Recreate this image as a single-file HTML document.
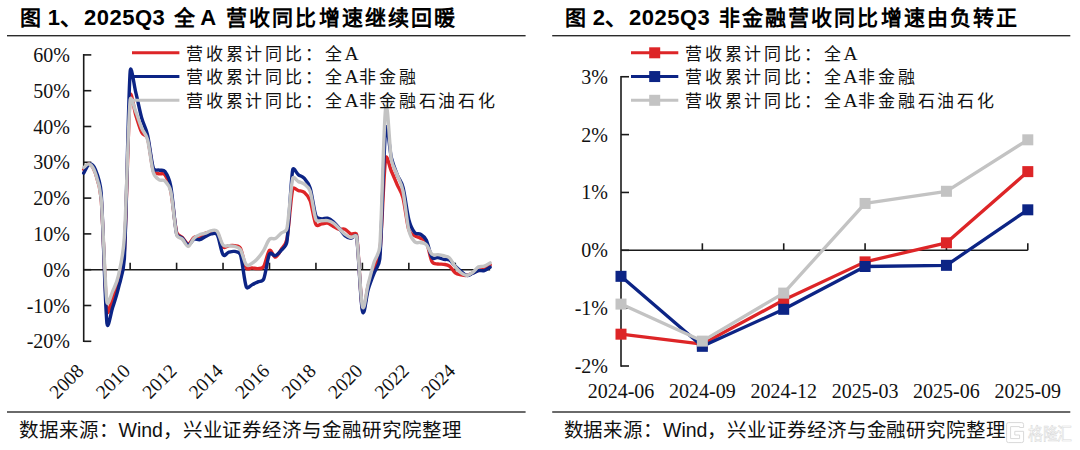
<!DOCTYPE html>
<html lang="zh-CN"><head><meta charset="utf-8"><title>chart</title>
<style>
html,body{margin:0;padding:0;background:#fff;}
body{width:1080px;height:450px;overflow:hidden;}
svg{display:block;}
.ttl{font-family:"Liberation Sans",sans-serif;font-weight:bold;fill:#000;}
.tc{font-size:21px;letter-spacing:2.15px;}
.tl{font-size:22px;letter-spacing:0.5px;}
.src{font-family:"Liberation Sans",sans-serif;font-size:19.5px;letter-spacing:-0.08px;fill:#111;}
.ax{font-family:"Liberation Serif",serif;font-size:20px;fill:#111;}
.lg{font-family:"Liberation Serif",serif;font-size:17px;font-weight:300;letter-spacing:2.8px;fill:#111;}
.xr{font-size:19.5px;}
.la{font-size:19.5px;letter-spacing:0.8px;}
.wm{font-family:"Liberation Sans",sans-serif;font-size:17px;fill:#fff;stroke:#dadada;stroke-width:0.6px;}
</style></head><body>
<svg width="1080" height="450" viewBox="0 0 1080 450">
<rect width="1080" height="450" fill="#fff"/>
<text y="25.30" class="ttl"><tspan x="19.50" class="tc">图</tspan><tspan x="47.75" class="tl">1、</tspan><tspan x="84.00" class="tl">2025Q3</tspan><tspan x="173.50" class="tc">全</tspan><tspan x="200.25" class="tl">A</tspan><tspan x="226.00" class="tc">营收同比增速继续回暖</tspan></text>
<text y="25.30" class="ttl"><tspan x="564.50" class="tc">图</tspan><tspan x="592.75" class="tl">2、</tspan><tspan x="629.00" class="tl">2025Q3</tspan><tspan x="718.50" class="tc">非金融营收同比增速由负转正</tspan></text>
<rect x="7" y="35" width="518.6" height="1.4" fill="#2b2b2b"/>
<rect x="552.2" y="35" width="518.1" height="1.4" fill="#2b2b2b"/>
<rect x="7" y="411.3" width="518.6" height="1.4" fill="#2b2b2b"/>
<rect x="552.2" y="411.3" width="518.1" height="1.4" fill="#2b2b2b"/>
<text x="19" y="437.4" class="src">数据来源：Wind，兴业证券经济与金融研究院整理</text>
<text x="563.5" y="437.4" class="src">数据来源：Wind，兴业证券经济与金融研究院整理</text>
<g stroke="#1a1a1a" stroke-width="1.6" fill="none">
<path d="M83.70,54.10 V342.10"/>
<path d="M83.70,341.30 H91.30"/>
<path d="M83.70,305.50 H91.30"/>
<path d="M83.70,269.70 H91.30"/>
<path d="M83.70,233.90 H91.30"/>
<path d="M83.70,198.10 H91.30"/>
<path d="M83.70,162.30 H91.30"/>
<path d="M83.70,126.50 H91.30"/>
<path d="M83.70,90.70 H91.30"/>
<path d="M83.70,54.90 H91.30"/>
<path d="M83.70,269.70 H490.12"/>
<path d="M130.15,269.70 V262.70"/>
<path d="M176.60,269.70 V262.70"/>
<path d="M223.04,269.70 V262.70"/>
<path d="M269.49,269.70 V262.70"/>
<path d="M315.94,269.70 V262.70"/>
<path d="M362.39,269.70 V262.70"/>
<path d="M408.84,269.70 V262.70"/>
<path d="M455.28,269.70 V262.70"/>
</g>
<text x="70" y="348.30" class="ax" text-anchor="end">-20%</text>
<text x="70" y="312.50" class="ax" text-anchor="end">-10%</text>
<text x="70" y="276.70" class="ax" text-anchor="end">0%</text>
<text x="70" y="240.90" class="ax" text-anchor="end">10%</text>
<text x="70" y="205.10" class="ax" text-anchor="end">20%</text>
<text x="70" y="169.30" class="ax" text-anchor="end">30%</text>
<text x="70" y="133.50" class="ax" text-anchor="end">40%</text>
<text x="70" y="97.70" class="ax" text-anchor="end">50%</text>
<text x="70" y="61.90" class="ax" text-anchor="end">60%</text>
<text x="84.90" y="372.10" class="ax xr" text-anchor="end" transform="rotate(-45 84.90 372.10)">2008</text>
<text x="131.35" y="372.10" class="ax xr" text-anchor="end" transform="rotate(-45 131.35 372.10)">2010</text>
<text x="177.80" y="372.10" class="ax xr" text-anchor="end" transform="rotate(-45 177.80 372.10)">2012</text>
<text x="224.24" y="372.10" class="ax xr" text-anchor="end" transform="rotate(-45 224.24 372.10)">2014</text>
<text x="270.69" y="372.10" class="ax xr" text-anchor="end" transform="rotate(-45 270.69 372.10)">2016</text>
<text x="317.14" y="372.10" class="ax xr" text-anchor="end" transform="rotate(-45 317.14 372.10)">2018</text>
<text x="363.59" y="372.10" class="ax xr" text-anchor="end" transform="rotate(-45 363.59 372.10)">2020</text>
<text x="410.04" y="372.10" class="ax xr" text-anchor="end" transform="rotate(-45 410.04 372.10)">2022</text>
<text x="456.48" y="372.10" class="ax xr" text-anchor="end" transform="rotate(-45 456.48 372.10)">2024</text>
<path d="M83.70,169.46 C84.67,168.56 87.57,163.49 89.51,164.09 C91.44,164.69 93.59,167.99 95.31,173.04 C97.25,178.71 100.04,185.28 101.12,198.10 C103.05,221.07 104.99,294.16 106.92,310.87 C107.72,317.73 110.79,303.41 112.73,298.34 C114.67,293.27 116.60,288.20 118.54,280.44 C120.47,272.68 123.42,266.38 124.34,251.80 C126.28,221.19 128.21,119.46 130.15,96.79 C130.99,86.90 134.02,109.79 135.95,115.76 C137.89,121.73 139.82,128.83 141.76,132.59 C143.63,136.21 146.39,134.41 147.57,138.31 C149.50,144.76 151.44,165.34 153.37,171.25 C154.36,174.25 157.24,173.16 159.18,173.76 C161.11,174.35 163.33,172.38 164.98,174.83 C166.92,177.69 169.09,182.55 170.79,190.94 C172.73,200.49 174.66,224.35 176.60,232.11 C177.55,235.95 180.47,235.51 182.40,237.48 C184.34,239.45 186.27,243.92 188.21,243.92 C190.14,243.92 192.08,238.73 194.01,237.48 C195.95,236.23 197.88,237.12 199.82,236.41 C201.76,235.69 203.69,233.90 205.63,233.18 C207.56,232.47 209.50,232.17 211.43,232.11 C213.37,232.05 215.42,230.53 217.24,232.83 C219.17,235.27 221.11,244.64 223.04,246.79 C224.98,248.94 226.91,245.89 228.85,245.71 C230.79,245.53 232.72,245.30 234.66,245.71 C236.59,246.13 239.00,245.42 240.46,248.22 C242.40,251.92 244.33,264.63 246.27,267.91 C247.74,270.41 250.14,267.79 252.07,267.91 C254.01,268.03 255.94,268.86 257.88,268.63 C259.82,268.39 262.02,269.09 263.69,266.48 C265.62,263.44 267.56,251.92 269.49,250.37 C271.43,248.82 273.36,257.29 275.30,257.17 C277.23,257.05 279.17,252.64 281.10,249.65 C283.04,246.67 285.79,245.11 286.91,239.27 C288.85,229.19 290.78,197.26 292.72,189.15 C293.41,186.24 296.59,190.04 298.52,190.58 C300.46,191.12 302.39,190.70 304.33,192.37 C306.26,194.04 308.43,195.87 310.13,200.61 C312.07,205.98 314.00,220.71 315.94,224.59 C317.25,227.21 319.81,224.11 321.75,223.88 C323.68,223.64 325.62,222.74 327.55,223.16 C329.49,223.58 331.42,225.37 333.36,226.38 C335.29,227.40 337.23,228.77 339.16,229.25 C341.10,229.72 343.03,228.47 344.97,229.25 C346.91,230.02 348.84,233.00 350.78,233.90 C352.71,234.79 356.13,231.73 356.58,234.62 C358.52,247.03 360.45,299.83 362.39,308.36 C364.32,316.90 366.26,292.55 368.19,285.81 C370.13,279.07 372.06,273.28 374.00,267.91 C375.94,262.54 378.99,261.27 379.81,253.59 C381.74,235.39 383.68,172.44 385.61,158.72 C386.58,151.88 389.48,166.89 391.42,171.25 C393.35,175.61 395.29,180.38 397.22,184.85 C399.16,189.33 401.23,191.10 403.03,198.10 C404.97,205.62 406.90,223.70 408.84,229.96 C410.04,233.86 412.71,234.32 414.64,235.69 C416.58,237.06 418.51,237.18 420.45,238.20 C422.38,239.21 424.75,238.72 426.25,241.78 C428.19,245.71 430.12,258.12 432.06,261.82 C433.49,264.57 435.93,263.55 437.87,263.97 C439.80,264.39 441.74,263.97 443.67,264.33 C445.61,264.69 447.54,264.69 449.48,266.12 C451.41,267.55 453.35,271.46 455.28,272.92 C457.22,274.38 459.15,274.47 461.09,274.89 C463.03,275.31 464.96,275.76 466.90,275.43 C468.83,275.10 470.77,273.76 472.70,272.92 C474.64,272.09 476.57,271.02 478.51,270.42 C480.44,269.81 482.38,270.20 484.31,269.27 C486.25,268.35 489.15,265.60 490.12,264.87" stroke="#DD2527" stroke-width="3.4" fill="none" stroke-linejoin="round" stroke-linecap="round"/>
<path d="M83.70,173.04 C84.67,171.55 87.57,164.69 89.51,164.09 C91.44,163.49 93.83,165.80 95.31,169.46 C97.25,174.23 100.22,180.77 101.12,192.73 C103.05,218.39 104.99,304.31 106.92,323.40 C107.79,331.92 110.79,313.26 112.73,307.29 C114.67,301.32 116.60,295.65 118.54,287.60 C120.47,279.54 123.56,273.55 124.34,258.96 C126.28,222.98 128.21,99.35 130.15,71.73 C130.93,60.63 134.02,85.45 135.95,93.21 C137.89,100.96 139.82,111.28 141.76,118.27 C143.70,125.25 145.63,126.74 147.57,135.09 C149.50,143.45 151.44,162.54 153.37,168.39 C154.33,171.27 157.24,169.64 159.18,170.18 C161.11,170.71 163.24,169.18 164.98,171.61 C166.92,174.29 169.34,178.53 170.79,186.29 C172.73,196.67 174.66,225.25 176.60,233.90 C177.38,237.42 180.47,236.35 182.40,238.20 C184.34,240.05 186.27,244.82 188.21,245.00 C190.14,245.18 192.08,240.16 194.01,239.27 C195.95,238.37 197.88,240.11 199.82,239.63 C201.76,239.15 203.69,237.36 205.63,236.41 C207.56,235.45 209.50,234.20 211.43,233.90 C213.37,233.60 215.81,232.06 217.24,234.62 C219.17,238.08 221.11,251.74 223.04,254.66 C224.79,257.30 226.91,252.69 228.85,252.16 C230.79,251.62 232.72,251.02 234.66,251.44 C236.59,251.86 239.43,251.51 240.46,254.66 C242.40,260.57 244.33,281.87 246.27,286.88 C247.38,289.77 250.14,285.57 252.07,284.74 C254.01,283.90 255.94,282.83 257.88,281.87 C259.82,280.92 262.44,282.00 263.69,279.01 C265.62,274.35 267.56,257.83 269.49,253.95 C270.85,251.23 273.36,256.33 275.30,255.74 C277.23,255.14 279.17,252.69 281.10,250.37 C283.04,248.04 286.17,246.91 286.91,241.78 C288.85,228.35 290.78,180.98 292.72,169.82 C293.37,166.04 296.59,173.40 298.52,174.83 C300.46,176.26 302.39,176.20 304.33,178.41 C306.26,180.62 308.47,182.69 310.13,188.08 C312.07,194.34 314.00,210.87 315.94,216.00 C317.08,219.03 319.81,218.51 321.75,218.86 C323.68,219.22 325.62,217.67 327.55,218.15 C329.49,218.63 331.42,220.06 333.36,221.73 C335.29,223.40 337.23,225.84 339.16,228.17 C341.10,230.50 343.03,234.02 344.97,235.69 C346.91,237.36 348.84,238.08 350.78,238.20 C352.71,238.32 356.10,233.41 356.58,236.41 C358.52,248.52 360.45,302.04 362.39,310.87 C364.32,319.70 366.26,295.65 368.19,289.39 C370.13,283.12 372.06,278.35 374.00,273.28 C375.94,268.21 379.18,266.66 379.81,258.96 C381.74,235.09 383.68,146.91 385.61,130.08 C387.24,115.91 389.48,150.55 391.42,158.00 C393.35,165.46 395.29,169.94 397.22,174.83 C399.16,179.72 401.30,180.68 403.03,187.36 C404.97,194.82 406.90,212.06 408.84,219.58 C410.60,226.42 412.71,230.02 414.64,232.47 C416.53,234.85 418.51,233.00 420.45,234.26 C422.38,235.51 424.43,236.34 426.25,239.99 C428.19,243.86 430.12,254.60 432.06,257.53 C433.66,259.95 435.93,257.23 437.87,257.53 C439.80,257.83 441.74,258.90 443.67,259.32 C445.61,259.74 447.54,258.90 449.48,260.03 C451.41,261.17 453.35,264.24 455.28,266.12 C457.22,268.00 459.15,269.76 461.09,271.31 C463.03,272.86 464.96,275.10 466.90,275.43 C468.83,275.76 470.77,274.09 472.70,273.28 C474.64,272.47 476.57,271.04 478.51,270.59 C480.44,270.15 482.38,271.16 484.31,270.59 C486.25,270.03 489.15,267.76 490.12,267.19" stroke="#0C2485" stroke-width="3.4" fill="none" stroke-linejoin="round" stroke-linecap="round"/>
<path d="M83.70,167.67 C84.67,167.07 87.57,163.19 89.51,164.09 C91.44,164.98 93.59,167.99 95.31,173.04 C97.25,178.71 99.96,185.29 101.12,198.10 C103.05,219.58 104.99,286.41 106.92,301.92 C107.68,307.98 110.79,295.65 112.73,291.18 C114.67,286.71 116.73,283.44 118.54,275.07 C120.47,266.12 123.08,256.46 124.34,237.48 C126.28,208.30 128.21,120.89 130.15,100.01 C130.77,93.29 134.02,107.47 135.95,112.18 C137.89,116.89 139.82,123.70 141.76,128.29 C143.70,132.88 145.94,133.53 147.57,139.75 C149.50,147.14 151.44,166.00 153.37,172.68 C154.65,177.11 157.24,178.47 159.18,179.84 C161.11,181.21 163.05,179.01 164.98,180.92 C166.92,182.83 169.53,185.48 170.79,191.30 C172.73,200.25 174.66,226.62 176.60,234.62 C177.47,238.23 180.47,237.30 182.40,239.27 C184.34,241.24 186.27,246.61 188.21,246.43 C190.14,246.25 192.08,240.16 194.01,238.20 C195.95,236.23 197.88,235.45 199.82,234.62 C201.76,233.78 203.69,233.84 205.63,233.18 C207.56,232.53 209.50,230.98 211.43,230.68 C213.37,230.38 215.40,229.12 217.24,231.39 C219.17,233.78 221.11,242.61 223.04,245.00 C224.89,247.27 226.91,245.48 228.85,245.71 C230.79,245.95 232.72,245.77 234.66,246.43 C236.59,247.09 238.68,246.85 240.46,249.65 C242.40,252.69 244.33,262.42 246.27,264.69 C248.20,266.96 250.14,264.33 252.07,263.26 C254.01,262.18 255.94,260.39 257.88,258.24 C259.82,256.10 261.75,253.53 263.69,250.37 C265.62,247.21 267.56,241.24 269.49,239.27 C271.43,237.30 273.36,239.57 275.30,238.55 C277.23,237.54 279.17,234.85 281.10,233.18 C283.04,231.51 286.14,232.17 286.91,228.53 C288.85,219.40 290.78,186.23 292.72,178.41 C293.51,175.19 296.59,180.68 298.52,181.63 C300.46,182.59 302.39,182.53 304.33,184.14 C306.26,185.75 308.70,186.92 310.13,191.30 C312.07,197.21 314.00,214.69 315.94,219.58 C317.03,222.33 319.81,220.47 321.75,220.65 C323.68,220.83 325.62,220.24 327.55,220.65 C329.49,221.07 331.42,221.85 333.36,223.16 C335.29,224.47 337.23,226.68 339.16,228.53 C341.10,230.38 343.03,232.77 344.97,234.26 C346.91,235.75 348.84,237.06 350.78,237.48 C352.71,237.90 356.09,233.88 356.58,236.76 C358.52,248.22 360.45,298.34 362.39,306.22 C364.32,314.09 366.26,291.30 368.19,284.02 C370.13,276.74 372.06,268.80 374.00,262.54 C375.94,256.27 379.16,254.97 379.81,246.43 C381.74,220.77 383.68,123.04 385.61,108.60 C387.55,94.16 389.48,148.76 391.42,159.79 C392.81,167.73 395.29,169.58 397.22,174.83 C399.16,180.08 401.24,182.75 403.03,191.30 C404.97,200.55 406.90,221.91 408.84,230.32 C410.28,236.58 412.71,239.75 414.64,241.78 C416.58,243.80 418.51,242.01 420.45,242.49 C422.38,242.97 424.32,242.67 426.25,244.64 C428.19,246.61 430.12,252.64 432.06,254.31 C434.00,255.98 435.93,254.43 437.87,254.66 C439.80,254.90 441.74,255.20 443.67,255.74 C445.61,256.27 447.54,256.04 449.48,257.89 C451.41,259.74 453.35,264.33 455.28,266.84 C457.22,269.34 459.15,271.49 461.09,272.92 C463.03,274.35 464.96,275.52 466.90,275.43 C468.83,275.34 470.77,273.82 472.70,272.38 C474.64,270.95 476.57,267.88 478.51,266.84 C480.44,265.79 482.38,266.78 484.31,266.12 C486.25,265.46 489.15,263.43 490.12,262.90" stroke="#C3C3C3" stroke-width="3.4" fill="none" stroke-linejoin="round" stroke-linecap="round"/>
<path d="M132,52.80 H179.4" stroke="#DD2527" stroke-width="3" />
<text x="186" y="59.70" class="lg">营收累计同比：全<tspan class="la">A</tspan></text>
<path d="M132,76.55 H179.4" stroke="#0C2485" stroke-width="3" />
<text x="186" y="83.45" class="lg">营收累计同比：全<tspan class="la">A</tspan>非金融</text>
<path d="M132,100.30 H179.4" stroke="#C3C3C3" stroke-width="3" />
<text x="186" y="107.20" class="lg">营收累计同比：全<tspan class="la">A</tspan>非金融石油石化</text>
<g stroke="#1a1a1a" stroke-width="1.6" fill="none">
<path d="M621.00,75.95 V366.80"/>
<path d="M621.00,366.00 H629.00"/>
<path d="M621.00,308.15 H629.00"/>
<path d="M621.00,250.30 H629.00"/>
<path d="M621.00,192.45 H629.00"/>
<path d="M621.00,134.60 H629.00"/>
<path d="M621.00,76.75 H629.00"/>
<path d="M621.00,250.30 H1027.80"/>
<path d="M702.36,250.30 V243.30"/>
<path d="M783.72,250.30 V243.30"/>
<path d="M865.08,250.30 V243.30"/>
<path d="M946.44,250.30 V243.30"/>
<path d="M1027.80,250.30 V243.30"/>
</g>
<text x="608" y="373.00" class="ax" text-anchor="end">-2%</text>
<text x="608" y="315.15" class="ax" text-anchor="end">-1%</text>
<text x="608" y="257.30" class="ax" text-anchor="end">0%</text>
<text x="608" y="199.45" class="ax" text-anchor="end">1%</text>
<text x="608" y="141.60" class="ax" text-anchor="end">2%</text>
<text x="608" y="83.75" class="ax" text-anchor="end">3%</text>
<text x="621.00" y="397.8" class="ax" text-anchor="middle">2024-06</text>
<text x="702.36" y="397.8" class="ax" text-anchor="middle">2024-09</text>
<text x="783.72" y="397.8" class="ax" text-anchor="middle">2024-12</text>
<text x="865.08" y="397.8" class="ax" text-anchor="middle">2025-03</text>
<text x="946.44" y="397.8" class="ax" text-anchor="middle">2025-06</text>
<text x="1027.80" y="397.8" class="ax" text-anchor="middle">2025-09</text>
<polyline points="621.00,334.18 702.36,344.02 783.72,300.05 865.08,261.87 946.44,242.78 1027.80,171.62" stroke="#DD2527" stroke-width="3.3" fill="none" stroke-linejoin="round"/>
<rect x="615.50" y="328.68" width="11" height="11" fill="#DD2527"/>
<rect x="696.86" y="338.52" width="11" height="11" fill="#DD2527"/>
<rect x="778.22" y="294.55" width="11" height="11" fill="#DD2527"/>
<rect x="859.58" y="256.37" width="11" height="11" fill="#DD2527"/>
<rect x="940.94" y="237.28" width="11" height="11" fill="#DD2527"/>
<rect x="1022.30" y="166.12" width="11" height="11" fill="#DD2527"/>
<polyline points="621.00,276.33 702.36,346.33 783.72,309.31 865.08,266.50 946.44,265.34 1027.80,209.81" stroke="#0C2485" stroke-width="3.3" fill="none" stroke-linejoin="round"/>
<rect x="615.50" y="270.83" width="11" height="11" fill="#0C2485"/>
<rect x="696.86" y="340.83" width="11" height="11" fill="#0C2485"/>
<rect x="778.22" y="303.81" width="11" height="11" fill="#0C2485"/>
<rect x="859.58" y="261.00" width="11" height="11" fill="#0C2485"/>
<rect x="940.94" y="259.84" width="11" height="11" fill="#0C2485"/>
<rect x="1022.30" y="204.31" width="11" height="11" fill="#0C2485"/>
<polyline points="621.00,304.10 702.36,341.12 783.72,293.11 865.08,203.44 946.44,191.29 1027.80,139.81" stroke="#C3C3C3" stroke-width="3.3" fill="none" stroke-linejoin="round"/>
<rect x="615.50" y="298.60" width="11" height="11" fill="#C3C3C3"/>
<rect x="696.86" y="335.62" width="11" height="11" fill="#C3C3C3"/>
<rect x="778.22" y="287.61" width="11" height="11" fill="#C3C3C3"/>
<rect x="859.58" y="197.94" width="11" height="11" fill="#C3C3C3"/>
<rect x="940.94" y="185.79" width="11" height="11" fill="#C3C3C3"/>
<rect x="1022.30" y="134.31" width="11" height="11" fill="#C3C3C3"/>
<path d="M631,52.80 H678.3" stroke="#DD2527" stroke-width="3" />
<rect x="649.2" y="47.30" width="11" height="11" fill="#DD2527"/>
<text x="685" y="59.70" class="lg">营收累计同比：全<tspan class="la">A</tspan></text>
<path d="M631,76.55 H678.3" stroke="#0C2485" stroke-width="3" />
<rect x="649.2" y="71.05" width="11" height="11" fill="#0C2485"/>
<text x="685" y="83.45" class="lg">营收累计同比：全<tspan class="la">A</tspan>非金融</text>
<path d="M631,100.30 H678.3" stroke="#C3C3C3" stroke-width="3" />
<rect x="649.2" y="94.80" width="11" height="11" fill="#C3C3C3"/>
<text x="685" y="107.20" class="lg">营收累计同比：全<tspan class="la">A</tspan>非金融石油石化</text>
<g fill="none" stroke="#d9d9d9" stroke-width="1"><path d="M1023.6,427.5 V424.5 Q1023.6,422.6 1021.7,422.6 H1008.5 Q1006.6,422.6 1006.6,424.5 V440.7 Q1006.6,442.6 1008.5,442.6 H1021.7 Q1023.6,442.6 1023.6,440.7 V431.3 H1014.8 V435 H1019.6 V438.6 H1010.6 V426.6 H1019.6 V427.5 Z"/></g>
<text x="1027.6" y="440.2" class="wm" transform="translate(1027.6 0) scale(0.88 1) translate(-1027.6 0)">格隆汇</text>
</svg>
</body></html>
